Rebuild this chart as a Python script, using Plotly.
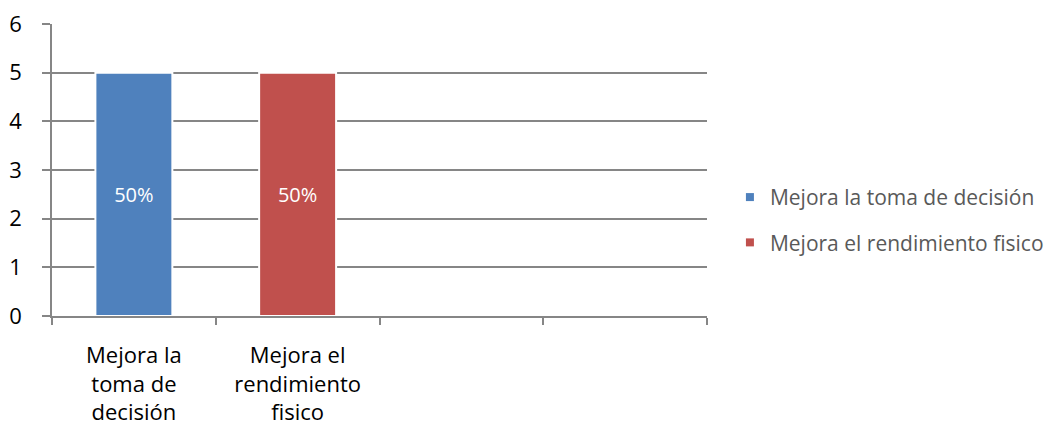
import plotly.graph_objects as go

# Category slots on the x axis (two trailing slots are left empty)
categories = ["Mejora la<br>toma de<br>decisión", "Mejora el<br>rendimiento<br>fisico", " ", "  "]
series_names = ["Mejora la toma de decisión", "Mejora el rendimiento fisico"]
values = [5, 5]
colors = ["#4F81BD", "#C0504D"]
y_ticks = [0, 1, 2, 3, 4, 5, 6]

total = sum(values)
font_family = "Open Sans"
grid_color = "#868686"

fig = go.Figure()
for name, cat, val, col in zip(series_names, categories, values, colors):
    fig.add_trace(go.Bar(
        name=name,
        x=[cat],
        y=[val],
        width=0.47,
        marker=dict(color=col, line=dict(color="white", width=2)),
        text=[f"{val / total:.0%}"],
        textposition="inside",
        insidetextanchor="middle",
        textfont=dict(color="white", size=20, family=font_family),
        showlegend=False,
        hoverinfo="skip",
    ))

# Legend entries with small square keys
for name, col in zip(series_names, colors):
    fig.add_trace(go.Scatter(
        name=name,
        legendgroup=name,
        x=[None],
        y=[None],
        mode="markers",
        marker=dict(symbol="square", size=8, color=col),
        showlegend=True,
    ))

fig.update_layout(
    width=1046,
    height=425,
    margin=dict(l=52, r=339, t=24, b=109, autoexpand=False),
    paper_bgcolor="white",
    plot_bgcolor="white",
    barmode="overlay",
    font=dict(family=font_family, color="black"),
    showlegend=True,
    legend=dict(
        x=1.035, xanchor="left", xref="paper",
        y=0.329, yanchor="middle",
        tracegroupgap=15,
        font=dict(size=21, color="#595959", family=font_family),
        bgcolor="rgba(0,0,0,0)",
    ),
    xaxis=dict(
        type="category",
        categoryorder="array",
        categoryarray=categories,
        tickson="boundaries",
        ticks="outside",
        ticklen=7,
        tickcolor=grid_color,
        tickwidth=1.5,
        showline=True,
        linecolor=grid_color,
        linewidth=1.5,
        showgrid=False,
        tickfont=dict(size=22, color="black", family=font_family),
        ticklabelstandoff=19,
        range=[-0.5, 3.5],
        automargin=False,
        fixedrange=True,
    ),
    yaxis=dict(
        range=[0, 6],
        tickvals=y_ticks,
        ticks="outside",
        ticklen=8,
        tickcolor=grid_color,
        tickwidth=1.5,
        showline=True,
        linecolor=grid_color,
        linewidth=1.5,
        showgrid=True,
        gridcolor=grid_color,
        gridwidth=1.5,
        zeroline=False,
        tickfont=dict(size=22, color="black", family=font_family),
        ticklabelstandoff=16,
        automargin=False,
        fixedrange=True,
    ),
)

fig.write_html("out.html")
